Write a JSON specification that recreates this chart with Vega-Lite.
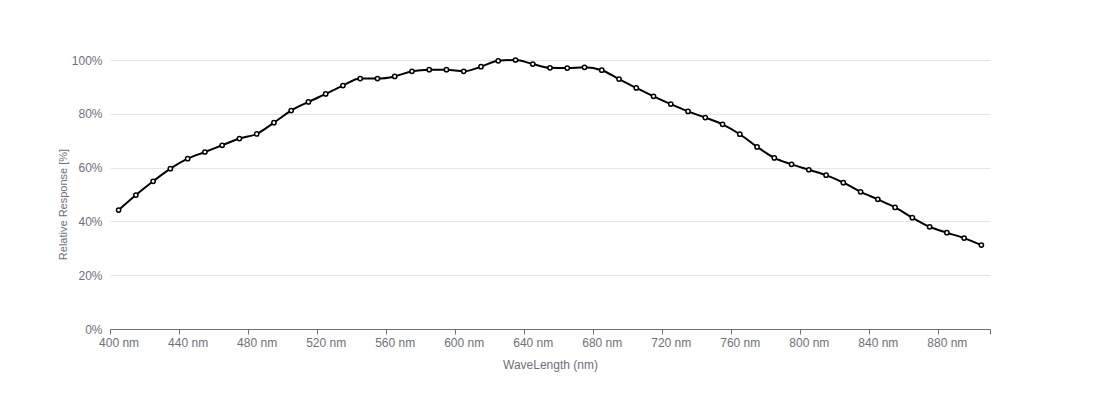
{
  "$schema": "https://vega.github.io/schema/vega-lite/v6.json",
  "width": 880,
  "height": 269,
  "autosize": {"type": "none"},
  "padding": {"left": 110, "top": 60, "right": 110, "bottom": 71},
  "background": "white",
  "config": {
    "view": {"stroke": null},
    "font": "Liberation Sans",
    "axis": {"labelFont": "Liberation Sans", "titleFont": "Liberation Sans", "labelColor": "#6E7079", "titleColor": "#6E7079", "labelFontSize": 12, "titleFontSize": 12, "titleFontWeight": "normal"}
  },
  "data": {
    "values": [
      {"wl": 400, "r": 44.2}, {"wl": 410, "r": 49.8}, {"wl": 420, "r": 54.9}, {"wl": 430, "r": 59.6},
      {"wl": 440, "r": 63.3}, {"wl": 450, "r": 65.8}, {"wl": 460, "r": 68.3}, {"wl": 470, "r": 70.8},
      {"wl": 480, "r": 72.5}, {"wl": 490, "r": 76.7}, {"wl": 500, "r": 81.2}, {"wl": 510, "r": 84.4},
      {"wl": 520, "r": 87.4}, {"wl": 530, "r": 90.5}, {"wl": 540, "r": 93.1}, {"wl": 550, "r": 93.1},
      {"wl": 560, "r": 93.9}, {"wl": 570, "r": 95.8}, {"wl": 580, "r": 96.4}, {"wl": 590, "r": 96.4},
      {"wl": 600, "r": 95.8}, {"wl": 610, "r": 97.5}, {"wl": 620, "r": 99.7}, {"wl": 630, "r": 100},
      {"wl": 640, "r": 98.5}, {"wl": 650, "r": 97.1}, {"wl": 660, "r": 97.0}, {"wl": 670, "r": 97.3},
      {"wl": 680, "r": 96.2}, {"wl": 690, "r": 92.9}, {"wl": 700, "r": 89.6}, {"wl": 710, "r": 86.5},
      {"wl": 720, "r": 83.6}, {"wl": 730, "r": 80.9}, {"wl": 740, "r": 78.6}, {"wl": 750, "r": 76.1},
      {"wl": 760, "r": 72.4}, {"wl": 770, "r": 67.7}, {"wl": 780, "r": 63.6}, {"wl": 790, "r": 61.2},
      {"wl": 800, "r": 59.2}, {"wl": 810, "r": 57.2}, {"wl": 820, "r": 54.4}, {"wl": 830, "r": 51.0},
      {"wl": 840, "r": 48.2}, {"wl": 850, "r": 45.2}, {"wl": 860, "r": 41.4}, {"wl": 870, "r": 38.0},
      {"wl": 880, "r": 35.8}, {"wl": 890, "r": 33.8}, {"wl": 900, "r": 31.2}
    ]
  },
  "encoding": {
    "x": {
      "field": "wl", "type": "quantitative",
      "scale": {"domain": [395, 905], "nice": false, "zero": false},
      "axis": {
        "title": "WaveLength (nm)",
        "values": [395, 435, 475, 515, 555, 595, 635, 675, 715, 755, 795, 835, 875, 905],
        "labelExpr": "datum.value > 900 ? '' : (datum.value + 5) + ' nm'",
        "labelOffset": 8.6,
        "labelFlush": false,
        "labelOverlap": false,
        "labelPadding": 3,
        "tickSize": 5,
        "tickColor": "#6E7079",
        "domainColor": "#6E7079",
        "grid": false,
        "titlePadding": 11
      }
    },
    "y": {
      "field": "r", "type": "quantitative",
      "scale": {"domain": [0, 100], "nice": false},
      "axis": {
        "title": "Relative Response [%]",
        "values": [0, 20, 40, 60, 80, 100],
        "labelExpr": "datum.value + '%'",
        "domain": false,
        "ticks": false,
        "labelPadding": 8,
        "gridColor": "#E0E6F1",
        "gridWidth": 1,
        "titlePadding": 3,
        "titleFontSize": 11,
        "titleY": 144
      }
    }
  },
  "layer": [
    {"mark": {"type": "line", "interpolate": "monotone", "color": "black", "strokeWidth": 2}},
    {"mark": {"type": "point", "shape": "circle", "filled": true, "fill": "white", "stroke": "black", "strokeWidth": 1.5, "size": 18, "opacity": 1}}
  ]
}
